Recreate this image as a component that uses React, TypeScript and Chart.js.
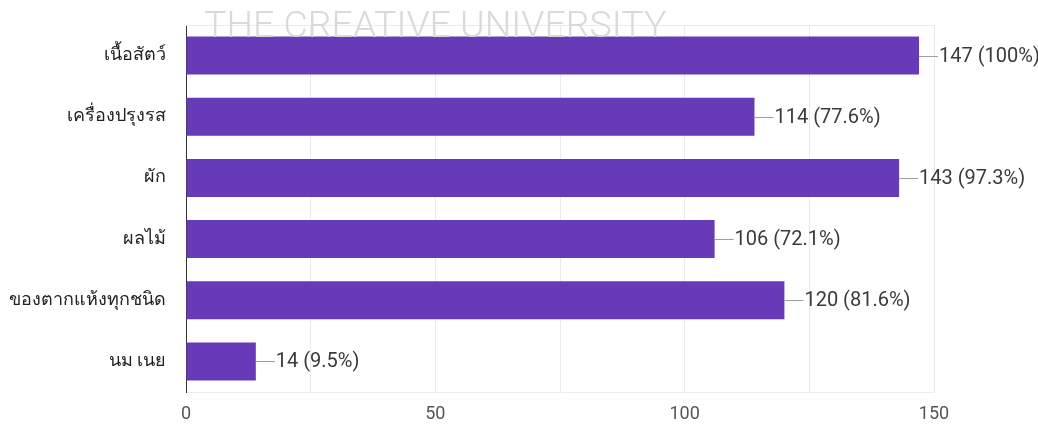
import React, { useEffect, useRef } from "react";
import { Chart, registerables } from "chart.js";

Chart.register(...registerables);

const categories = ["เนื้อสัตว์", "เครื่องปรุงรส", "ผัก", "ผลไม้", "ของตากแห้งทุกชนิด", "นม เนย"];
const counts = [147, 114, 143, 106, 120, 14];
const percents = ["100%", "77.6%", "97.3%", "72.1%", "81.6%", "9.5%"];
const xTickLabels = [0, 50, 100, 150];
const watermark = "THE CREATIVE UNIVERSITY";

const FONT = "Roboto, 'Noto Sans', 'DejaVu Sans', sans-serif";

export default function App() {
  const ref = useRef<HTMLCanvasElement | null>(null);
  useEffect(() => {
    if (!ref.current) return;
    const labelPlugin = {
      id: "labels",
      afterDatasetsDraw(chart: any) {
        const ctx = chart.ctx;
        const meta = chart.getDatasetMeta(0);
        ctx.save();
        meta.data.forEach((bar: any, i: number) => {
          ctx.strokeStyle = "#9e9e9e";
          ctx.lineWidth = 1;
          ctx.beginPath();
          ctx.moveTo(bar.x, Math.round(bar.y) + 0.5);
          ctx.lineTo(bar.x + 19, Math.round(bar.y) + 0.5);
          ctx.stroke();
          ctx.fillStyle = "#3a3a3a";
          ctx.font = `20px ${FONT}`;
          ctx.textAlign = "left";
          ctx.textBaseline = "middle";
          ctx.fillText(`${counts[i]} (${percents[i]})`, bar.x + 20, bar.y + 1);
        });
        ctx.restore();
      },
      afterDraw(chart: any) {
        const ctx = chart.ctx;
        const a = chart.chartArea;
        ctx.save();
        ctx.strokeStyle = "#ebebeb";
        ctx.lineWidth = 1;
        ctx.beginPath();
        ctx.moveTo(a.left, a.top + 0.5);
        ctx.lineTo(a.right, a.top + 0.5);
        ctx.stroke();
        ctx.fillStyle = "#d9d9d9";
        ctx.font = `300 37.5px ${FONT}`;
        ctx.textAlign = "left";
        ctx.textBaseline = "alphabetic";
        ctx.fillText(watermark, 204, 37);
        ctx.restore();
      },
    };
    const chart = new Chart(ref.current, {
      type: "bar",
      data: {
        labels: categories,
        datasets: [
          {
            data: counts,
            backgroundColor: "#673ab7",
            borderWidth: 0,
            categoryPercentage: 1,
            barPercentage: 0.62,
          },
        ],
      },
      options: {
        indexAxis: "y",
        animation: false,
        responsive: false,
        maintainAspectRatio: false,
        layout: { padding: { left: 0, right: 104, top: 25, bottom: 0 } },
        plugins: { legend: { display: false }, tooltip: { enabled: false } },
        scales: {
          x: {
            min: 0,
            max: 150,
            ticks: {
              stepSize: 25,
              color: "#555555",
              font: { size: 18, family: FONT },
              padding: 12,
              callback: (v: any) => (xTickLabels.includes(Number(v)) ? String(v) : ""),
              maxRotation: 0,
              autoSkip: false,
            },
            grid: { color: "#ebebeb", drawTicks: false },
            border: { color: "#ebebeb" },
            afterFit: (s: any) => {
              s.height = 33;
              s.paddingLeft = 0;
              s.paddingRight = 0;
            },
          },
          y: {
            ticks: {
              color: "#222222",
              font: { size: 18, family: FONT },
              padding: 20,
            },
            grid: { display: false, drawTicks: false },
            border: { color: "#333333", width: 1 },
            afterFit: (s: any) => {
              s.width = 186;
              s.paddingTop = 0;
              s.paddingBottom = 0;
            },
          },
        },
      },
      plugins: [labelPlugin],
    });
    return () => chart.destroy();
  }, []);
  return (
    <div style={{ position: "fixed", left: 0, top: 0, width: 1038, height: 425, background: "#fff" }}>
      <canvas ref={ref} width={1038} height={425} />
    </div>
  );
}
